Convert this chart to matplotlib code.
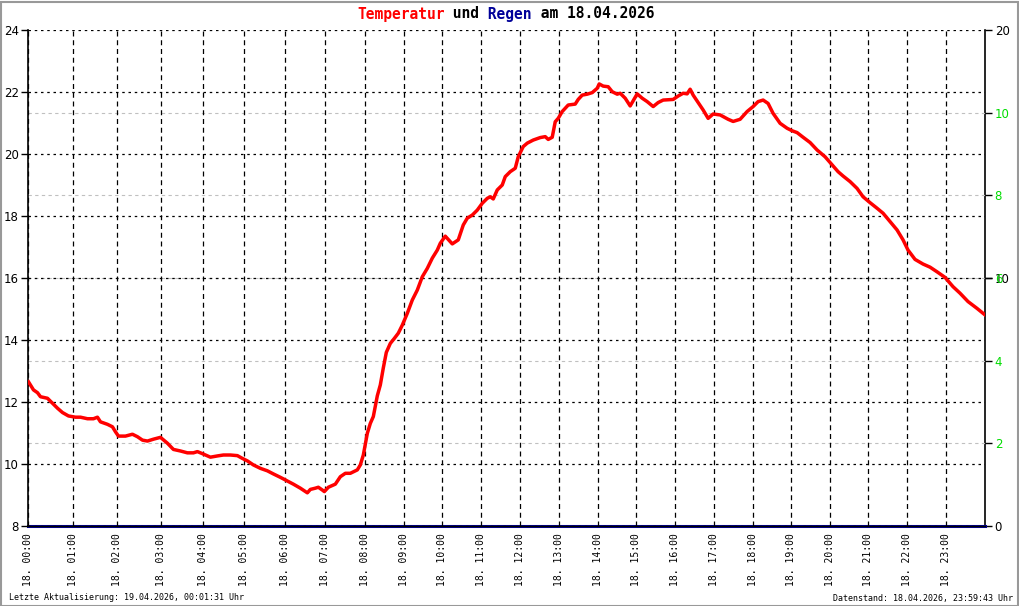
import matplotlib
matplotlib.use("Agg")
import matplotlib.pyplot as plt
from matplotlib.patches import Rectangle

# sample number (record index) and temperature in degC
sample_no = [0, 5, 9, 12, 19, 24, 29, 34, 40, 47, 52, 59, 65, 69, 72, 79, 84, 87, 90,
             97, 104, 109, 114, 119, 125, 132, 139, 145, 152, 159, 165, 169, 175, 182,
             189, 195, 202, 209, 214, 219, 225, 232, 239, 245, 252, 259, 265, 272, 279,
             282, 287, 290, 294, 296, 300, 307, 312, 317, 322, 329, 332, 335, 339, 342,
             345, 349, 352, 355, 358, 362, 366, 370, 374, 379, 384, 389, 394, 399, 404,
             409, 412, 417, 424, 430, 435, 439, 444, 449, 454, 459, 462, 465, 469, 474,
             477, 482, 487, 490, 495, 499, 505, 512, 517, 520, 524, 527, 530, 534, 540,
             547, 550, 554, 559, 564, 569, 571, 575, 580, 584, 589, 592, 597, 602, 607,
             609, 614, 619, 625, 630, 635, 645, 650, 655, 659, 662, 665, 670, 675, 680,
             685, 692, 700, 705, 712, 719, 725, 730, 735, 740, 745, 752, 759, 764, 769,
             775, 782, 789, 797, 804, 810, 815, 822, 829, 835, 842, 849, 855, 862, 869,
             875, 880, 887, 895, 902, 909, 917, 925, 932, 940, 949, 957]
temp_c = [12.65, 12.39, 12.30, 12.17, 12.12, 11.96, 11.80, 11.66, 11.55, 11.51, 11.51,
          11.46, 11.46, 11.51, 11.36, 11.28, 11.20, 11.04, 10.90, 10.90, 10.96, 10.88,
          10.77, 10.74, 10.80, 10.86, 10.67, 10.47, 10.42, 10.36, 10.36, 10.40, 10.32,
          10.22, 10.26, 10.29, 10.29, 10.27, 10.18, 10.10, 9.97, 9.86, 9.78, 9.68, 9.57,
          9.45, 9.35, 9.22, 9.07, 9.18, 9.22, 9.25, 9.16, 9.11, 9.25, 9.35, 9.59, 9.70,
          9.70, 9.81, 9.97, 10.29, 10.99, 11.31, 11.53, 12.20, 12.55, 13.10, 13.60, 13.89,
          14.05, 14.22, 14.48, 14.86, 15.29, 15.61, 16.04, 16.31, 16.64, 16.90, 17.12,
          17.35, 17.10, 17.23, 17.71, 17.93, 18.03, 18.19, 18.41, 18.57, 18.62, 18.55,
          18.84, 19.00, 19.27, 19.43, 19.54, 19.91, 20.24, 20.35, 20.45, 20.53, 20.56,
          20.47, 20.54, 21.04, 21.15, 21.37, 21.58, 21.61, 21.76, 21.90, 21.93, 21.98,
          22.12, 22.26, 22.19, 22.17, 22.01, 21.93, 21.96, 21.80, 21.55, 21.83, 21.94,
          21.80, 21.69, 21.53, 21.66, 21.74, 21.76, 21.87, 21.96, 21.94, 22.09, 21.90,
          21.66, 21.42, 21.15, 21.29, 21.26, 21.12, 21.05, 21.12, 21.37, 21.53, 21.69,
          21.74, 21.63, 21.31, 20.99, 20.83, 20.75, 20.69, 20.54, 20.37, 20.13, 19.91,
          19.65, 19.43, 19.29, 19.11, 18.89, 18.62, 18.43, 18.25, 18.09, 17.82, 17.55,
          17.23, 16.90, 16.60, 16.45, 16.35, 16.20, 16.02, 15.72, 15.51, 15.24, 15.02,
          14.81]
rain_mm = [0.0] * len(sample_no)

# record index where each hour starts
hour_idx = [0, 45, 89, 133, 175, 216, 257, 297, 337, 376, 414, 453, 492, 531, 570,
            608, 647, 686, 725, 763, 802, 840, 879, 918]
hour_labels = ["18. %02d:00" % h for h in range(24)]
n_records = 957

temp_ticks = [8, 10, 12, 14, 16, 18, 20, 22, 24]
rain_ticks = [0, 10, 20]
green_ticks = [2, 4, 6, 8, 10]

fig = plt.figure(figsize=(10.2, 6.06), dpi=100)
W, H = 1020, 606
ax = fig.add_axes([28.5 / W, (H - 526) / H, (985 - 28.5) / W, (526 - 30) / H])
ax2 = ax.twinx()
ax3 = ax.twinx()

# gray helper grid (green scale)
ax3.set_ylim(0, 12)
ax3.set_yticks(green_ticks)
ax3.grid(axis="y", color="#c0c0c0", ls=(0, (3, 3)), lw=0.8)
ax3.tick_params(axis="y", length=5, width=1, color="black", labelcolor="#00dd00",
                labelsize=8.5, pad=2)
for s in ax3.spines.values():
    s.set_visible(False)

# rain axis
ax2.set_ylim(0, 20)
ax2.set_yticks(rain_ticks)
ax2.tick_params(axis="y", length=5, width=1, labelsize=8.5, pad=2)
ax2.plot(sample_no, rain_mm, color="#000099", lw=2.2, clip_on=False, zorder=3)
for k in ["top", "left", "bottom"]:
    ax2.spines[k].set_visible(False)
ax2.spines["right"].set_linewidth(1.2)

# temperature axis on top
ax.set_zorder(ax3.get_zorder() + 1)
ax.patch.set_visible(False)
ax.plot(sample_no, temp_c, color="#ff0000", lw=2.5, zorder=4)
ax.set_xlim(0, n_records)
ax.set_ylim(8, 24)
ax.set_yticks(temp_ticks)
ax.set_xticks(hour_idx)
ax.set_xticklabels(hour_labels, rotation=90, family="DejaVu Sans Mono", fontsize=7)
ax.tick_params(axis="x", length=0, pad=5)
ax.tick_params(axis="y", length=5, width=1, labelsize=8.5, pad=2)
ax.grid(axis="y", color="black", ls=(0, (2, 3)), lw=0.9)
ax.grid(axis="x", color="black", ls=(0, (4, 3)), lw=0.9)
ax.spines["top"].set_visible(False)
ax.spines["right"].set_visible(False)
ax.spines["left"].set_linewidth(1.2)
ax.spines["bottom"].set_linewidth(1.0)

# title in three colours, each piece placed after the previous one
mono = dict(family="DejaVu Sans Mono", fontsize=10.5, fontweight="bold")
prev = fig.text(357 / W, 1 - 14 / H, "Temperatur", color="#ff0000",
                va="center", ha="left", **mono)
for part, col in [(" und", "black"), (" Regen", "#000099"), (" am 18.04.2026", "black")]:
    prev = ax.annotate(part, xy=(1, 0), xycoords=prev, ha="left", va="bottom",
                       color=col, annotation_clip=False, **mono)

# footer
foot = dict(family="DejaVu Sans Mono", fontsize=6, va="center")
fig.text(9 / W, 1 - 598 / H, "Letzte Aktualisierung: 19.04.2026, 00:01:31 Uhr", ha="left", **foot)
fig.text(1013 / W, 1 - 598 / H, "Datenstand: 18.04.2026, 23:59:43 Uhr", ha="right", **foot)

# outer frame
fig.patches.append(Rectangle((0.5 / W, 0.5 / H), 1 - 2.5 / W, 1 - 2.5 / H,
                             transform=fig.transFigure, fill=False,
                             edgecolor="#999999", lw=1.5))

fig.savefig("out.png", dpi=100)
